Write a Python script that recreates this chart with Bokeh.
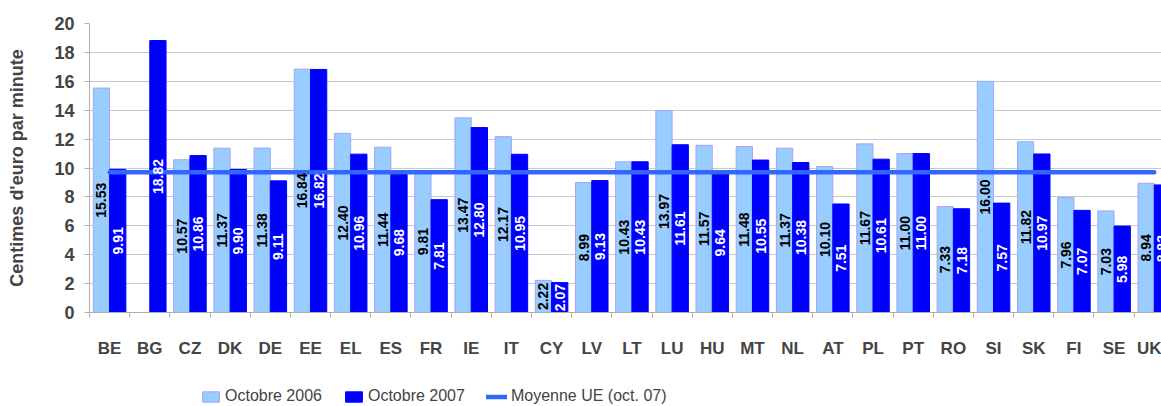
import math
from bokeh.plotting import figure
from bokeh.layouts import column
from bokeh.models import (ColumnDataSource, Range1d, FixedTicker, Legend, LegendItem)
from bokeh.embed import file_html
from bokeh.resources import INLINE
from bokeh.core.properties import value

# ---- data ----
countries = ["BE", "BG", "CZ", "DK", "DE", "EE", "EL", "ES", "FR", "IE", "IT", "CY", "LV",
             "LT", "LU", "HU", "MT", "NL", "AT", "PL", "PT", "RO", "SI", "SK", "FI", "SE", "UK"]
oct_2006 = [15.53, None, 10.57, 11.37, 11.38, 16.84, 12.40, 11.44, 9.81, 13.47, 12.17, 2.22, 8.99,
            10.43, 13.97, 11.57, 11.48, 11.37, 10.10, 11.67, 11.00, 7.33, 16.00, 11.82, 7.96, 7.03, 8.94]
oct_2007 = [9.91, 18.82, 10.86, 9.90, 9.11, 16.82, 10.96, 9.68, 7.81, 12.80, 10.95, 2.07, 9.13,
            10.43, 11.61, 9.64, 10.55, 10.38, 7.51, 10.61, 11.00, 7.18, 7.57, 10.97, 7.07, 5.98, 8.83]
eu_avg_2007 = 9.7
y_ticks = [0, 2, 4, 6, 8, 10, 12, 14, 16, 18, 20]
series_names = ["Octobre 2006", "Octobre 2007", "Moyenne UE (oct. 07)"]

FONT = "Liberation Sans"
C06 = "#99CCFF"
C06_EDGE = "#A5A5F5"
C07 = "#0000FF"
CAVG = "#3366FF"

n = len(countries)
centers = [i + 0.5 for i in range(n)]
BW = 0.405

idx06 = [i for i, v in enumerate(oct_2006) if v is not None]
src06 = ColumnDataSource(dict(
    x=[centers[i] - BW / 2 for i in idx06],
    top=[oct_2006[i] for i in idx06],
    mid=[oct_2006[i] / 2 for i in idx06],
    lbl=["%.2f" % oct_2006[i] for i in idx06],
))
src07 = ColumnDataSource(dict(
    x=[c + BW / 2 for c in centers],
    top=oct_2007,
    mid=[v / 2 for v in oct_2007],
    lbl=["%.2f" % v for v in oct_2007],
))
srcavg = ColumnDataSource(dict(x=centers, y=[eu_avg_2007] * n))

p = figure(width=1161, height=378, output_backend="svg", toolbar_location=None,
           x_range=Range1d(0, 26.68), y_range=Range1d(0, 20),
           min_border_left=89, min_border_right=0, min_border_top=23, min_border_bottom=66)
p.outline_line_color = None
p.background_fill_color = "white"
p.border_fill_color = "white"

r06 = p.vbar(x="x", top="top", width=BW, bottom=0, source=src06,
             fill_color=C06, line_color=C06_EDGE, line_width=1)
r07 = p.vbar(x="x", top="top", width=BW, bottom=0, source=src07,
             fill_color=C07, line_color=C07, line_width=1)
ravg = p.line(x="x", y="y", source=srcavg, line_color=CAVG, line_width=4.5, line_cap="round")

p.text(x="x", y="mid", text="lbl", source=src06, angle=math.pi / 2,
       text_align="center", text_baseline="middle", text_color="black",
       text_font=value(FONT), text_font_style="bold", text_font_size="14px")
p.text(x="x", y="mid", text="lbl", source=src07, angle=math.pi / 2,
       text_align="center", text_baseline="middle", text_color="white",
       text_font=value(FONT), text_font_style="bold", text_font_size="14px")

# grid
p.xgrid.grid_line_color = None
p.ygrid.ticker = FixedTicker(ticks=y_ticks)
p.ygrid.grid_line_color = "#C8C8C8"
p.ygrid.grid_line_width = 1

# y axis
p.yaxis.ticker = FixedTicker(ticks=y_ticks)
p.yaxis.axis_label = "Centimes d'euro par minute"
p.yaxis.axis_label_text_font = FONT
p.yaxis.axis_label_text_font_style = "bold"
p.yaxis.axis_label_text_font_size = "18px"
p.yaxis.axis_label_standoff = 24
p.yaxis.major_label_text_font = FONT
p.yaxis.major_label_text_font_style = "bold"
p.yaxis.major_label_text_font_size = "18px"
p.yaxis.major_label_standoff = 10
p.yaxis.axis_line_color = "#B0B0B0"
p.yaxis.major_tick_line_color = "#B0B0B0"
p.yaxis.major_tick_in = 0
p.yaxis.major_tick_out = 5
p.yaxis.minor_tick_line_color = None

# x axis
p.xaxis.ticker = FixedTicker(ticks=centers, minor_ticks=list(range(n + 1)))
p.xaxis.major_label_overrides = {c: name for c, name in zip(centers, countries)}
p.xaxis.major_label_text_font = FONT
p.xaxis.major_label_text_font_style = "bold"
p.xaxis.major_label_text_font_size = "17px"
p.xaxis.major_label_standoff = 20
p.xaxis.major_tick_line_color = None
p.xaxis.minor_tick_line_color = "#B0B0B0"
p.xaxis.minor_tick_in = 0
p.xaxis.minor_tick_out = 5
p.xaxis.axis_line_color = "#B0B0B0"

# legend strip (separate figure; its glyph renderers hold only NaN, nothing is drawn)
pl = figure(width=1161, height=28, output_backend="svg", toolbar_location=None,
            x_axis_type=None, y_axis_type=None, x_range=Range1d(0, 1), y_range=Range1d(0, 1),
            min_border_left=0, min_border_right=0, min_border_top=0, min_border_bottom=0)
pl.outline_line_color = None
pl.xgrid.visible = False
pl.ygrid.visible = False
nan = float("nan")
empty = ColumnDataSource(dict(x=[nan], top=[nan], y=[nan]))
l06 = pl.vbar(x="x", top="top", width=0.1, source=empty, fill_color=C06, line_color=C06_EDGE)
l07 = pl.vbar(x="x", top="top", width=0.1, source=empty, fill_color=C07, line_color=C07)
lavg = pl.line(x="x", y="y", source=empty, line_color=CAVG, line_width=4.5, line_cap="round")

legend = Legend(items=[LegendItem(label=series_names[0], renderers=[l06]),
                       LegendItem(label=series_names[1], renderers=[l07]),
                       LegendItem(label=series_names[2], renderers=[lavg])],
                location=(111, 1), orientation="horizontal",
                glyph_width=21, glyph_height=13, label_standoff=4, spacing=21,
                padding=0, margin=0, border_line_color=None, background_fill_alpha=0,
                label_text_font=FONT, label_text_font_size="16px")
pl.add_layout(legend, "center")

open("out.html", "w").write(file_html(column(p, pl, spacing=0), INLINE))
